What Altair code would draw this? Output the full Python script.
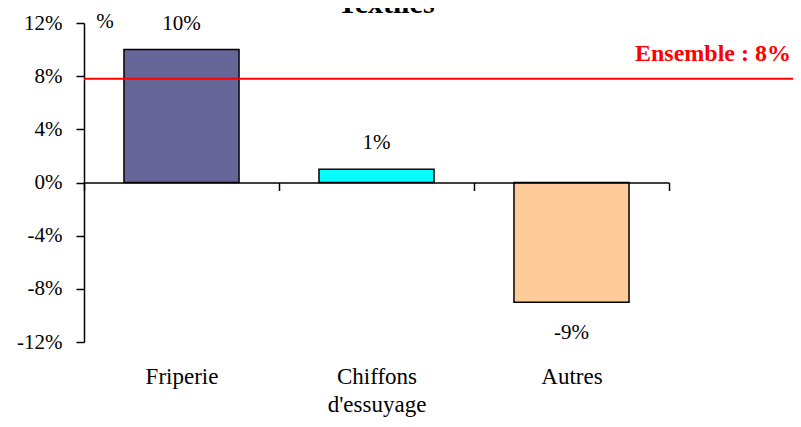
import altair as alt
import pandas as pd

categories = ["Friperie", "Chiffons|d'essuyage", "Autres"]
values = [10, 1, -9]
colors = ["#666699", "#00FFFF", "#FFCC99"]
ensemble = 7.8
ensemble_label = "Ensemble : 8%"
title_text = "Textiles"
unit_text = "%"
y_ticks = [-12, -8, -4, 0, 4, 8, 12]

df = pd.DataFrame({"cat": categories, "value": values, "color": colors})

W, H = 585, 319
FONT = "Liberation Serif, Times New Roman, serif"

xenc = alt.X(
    "cat:N",
    sort=categories,
    scale=alt.Scale(paddingInner=0, paddingOuter=0),
    axis=alt.Axis(
        title=None,
        orient="bottom",
        offset=-H / 2,
        tickBand="extent",
        tickSize=8,
        tickColor="black",
        tickWidth=1.5,
        domainColor="black",
        domainWidth=1.5,
        labelFont=FONT,
        labelFontSize=23,
        labelColor="black",
        labelPadding=175,
        labelBaseline="top",
        labelLineHeight=28,
        labelAngle=0,
        labelExpr="split(datum.label, '|')",
        zindex=1,
    ),
)
yscale = alt.Scale(domain=[-12, 12], nice=False, zero=False)
yenc = alt.Y(
    "value:Q",
    scale=yscale,
    axis=alt.Axis(
        title=None,
        values=y_ticks,
        labelExpr="datum.value + '%'",
        labelFont=FONT,
        labelFontSize=21,
        labelColor="black",
        labelPadding=14,
        tickSize=8,
        tickColor="black",
        tickWidth=1.5,
        domainColor="black",
        domainWidth=1.5,
        grid=False,
    ),
)

base = alt.Chart(df)

bars = base.mark_bar(stroke="black", strokeWidth=1.5, width=alt.RelativeBandSize(0.59)).encode(
    x=xenc,
    y=yenc,
    color=alt.Color("color:N", scale=None),
)

lbl_pos = base.transform_filter("datum.value >= 0").transform_calculate(
    lbl="datum.value + '%'"
).mark_text(font=FONT, fontSize=21, color="black", dy=-26, baseline="middle").encode(
    x=alt.X("cat:N", sort=categories), y=alt.Y("value:Q", scale=yscale), text="lbl:N"
)
lbl_neg = base.transform_filter("datum.value < 0").transform_calculate(
    lbl="datum.value + '%'"
).mark_text(font=FONT, fontSize=21, color="black", dy=31, baseline="middle").encode(
    x=alt.X("cat:N", sort=categories), y=alt.Y("value:Q", scale=yscale), text="lbl:N"
)

ens_df = pd.DataFrame({"v": [ensemble], "t": [ensemble_label]})
ens_rule = alt.Chart(ens_df).mark_rule(color="#FF0000", strokeWidth=2).encode(
    y=alt.Y("v:Q", scale=yscale), x=alt.value(0), x2=alt.value(W + 124)
)
ens_text = alt.Chart(ens_df).mark_text(
    font=FONT, fontSize=24, fontWeight="bold", color="#FF0000", align="right", baseline="middle", dy=-25
).encode(y=alt.Y("v:Q", scale=yscale), x=alt.value(707), text="t:N")

misc_df = pd.DataFrame({"title": [title_text], "unit": [unit_text]})
title_mark = alt.Chart(misc_df).mark_text(
    font=FONT, fontSize=30, fontWeight="bold", color="black", align="center", baseline="alphabetic"
).encode(x=alt.value(302), y=alt.value(-10.5), text="title:N")
unit_mark = alt.Chart(misc_df).mark_text(
    font=FONT, fontSize=21, color="black", align="center", baseline="middle"
).encode(x=alt.value(21), y=alt.value(-1), text="unit:N")

chart = alt.layer(bars, lbl_pos, lbl_neg, ens_rule, ens_text, title_mark, unit_mark).properties(
    width=W,
    height=H,
    autosize=alt.AutoSizeParams(type="none"),
    padding={"left": 76, "top": 15, "right": 124, "bottom": 76},
    background="white",
).configure_view(stroke=None)

chart.save("out.html", embed_options={"renderer": "svg", "actions": False})
